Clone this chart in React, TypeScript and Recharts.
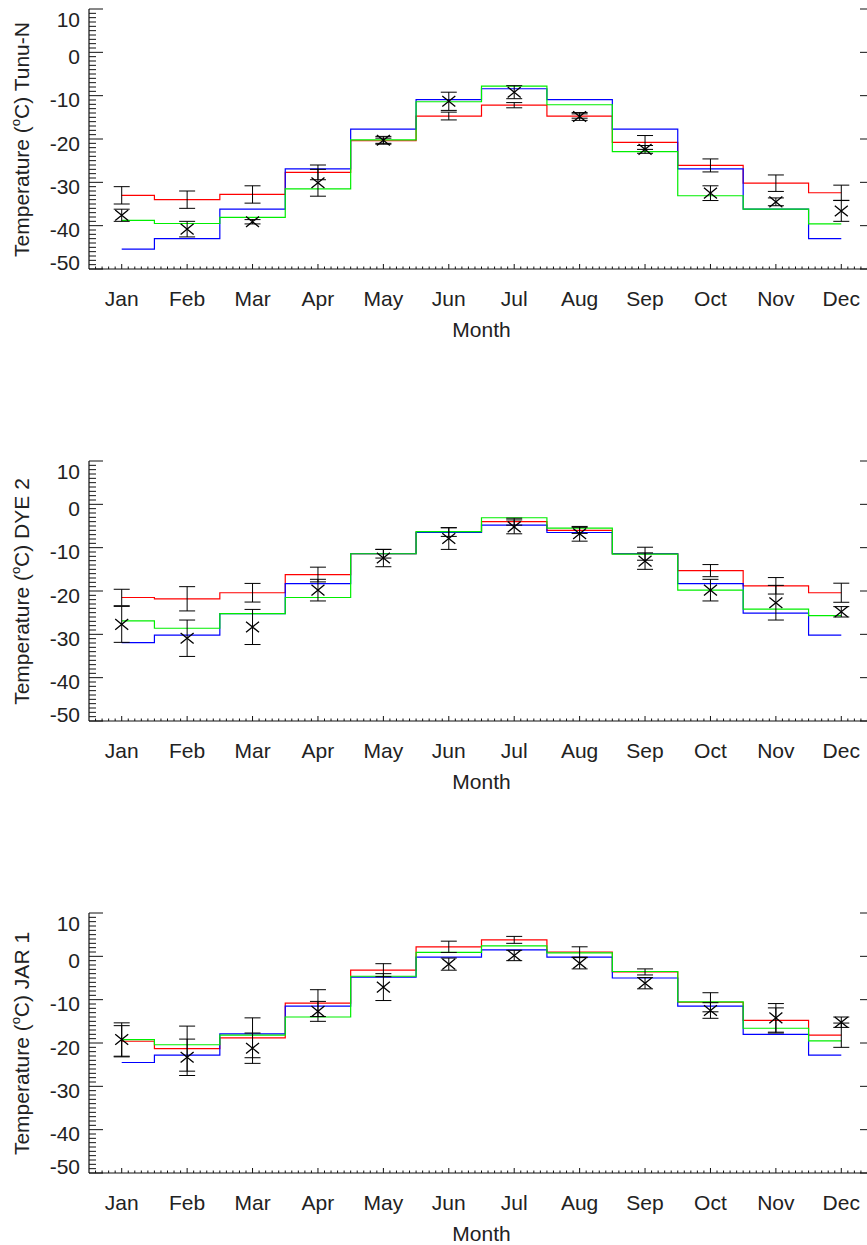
import React from 'react';
import { ComposedChart, Line, Scatter, ErrorBar, XAxis, YAxis, Label } from 'recharts';

// ---------- categories / tick labels ----------
const MONTHS = ['Jan', 'Feb', 'Mar', 'Apr', 'May', 'Jun', 'Jul', 'Aug', 'Sep', 'Oct', 'Nov', 'Dec'];
const Y_LABELS = [10, 0, -10, -20, -30, -40, -50];

// ---------- Tunu-N ----------
const TUNU_RED = [-33.0, -34.0, -32.8, -27.7, -20.4, -14.7, -12.2, -14.7, -20.8, -26.1, -30.2, -32.4];
const TUNU_GREEN = [-38.8, -39.5, -38.1, -31.5, -20.2, -11.4, -7.8, -12.1, -22.9, -33.1, -36.2, -39.6];
const TUNU_BLUE = [-45.4, -43.0, -36.2, -26.9, -17.7, -10.9, -8.4, -10.9, -17.7, -26.9, -36.2, -43.0];
const TUNU_RED_ERR = [2.0, 2.0, 2.0, 1.7, 0.6, 0.9, 0.6, 0.5, 1.6, 1.5, 1.9, 1.75];
const TUNU_OBS = [-37.6, -40.8, -39.1, -30.1, -20.3, -11.3, -9.2, -14.8, -22.4, -32.5, -34.5, -36.6];
const TUNU_OBS_ERR = [1.4, 1.8, 0.5, 3.1, 0.9, 2.1, 1.5, 0.9, 0.9, 1.7, 0.9, 2.4];

// ---------- DYE 2 ----------
const DYE_RED = [-21.5, -21.8, -20.4, -16.2, -11.4, -6.4, -4.0, -6.0, -11.4, -15.3, -18.8, -20.4];
const DYE_GREEN = [-26.9, -28.6, -25.2, -21.5, -11.4, -6.3, -3.1, -5.5, -11.5, -19.8, -24.2, -25.7];
const DYE_BLUE = [-31.9, -30.2, -25.2, -18.3, -11.4, -6.5, -4.8, -6.5, -11.4, -18.3, -25.1, -30.2];
const DYE_RED_ERR = [1.9, 2.8, 2.15, 1.7, 1.0, 1.0, 0.8, 0.7, 1.5, 1.4, 1.9, 2.2];
const DYE_OBS = [-27.7, -30.9, -28.3, -19.8, -12.4, -7.9, -5.2, -6.8, -13.1, -19.8, -22.7, -24.8];
const DYE_OBS_ERR = [4.15, 4.2, 4.05, 2.5, 2.0, 2.5, 1.6, 1.7, 1.9, 2.5, 4.0, 1.2];

// ---------- JAR 1 ----------
const JAR_RED = [-19.6, -21.3, -18.8, -10.8, -3.2, 2.2, 3.8, 1.0, -3.6, -10.6, -14.8, -18.2];
const JAR_GREEN = [-19.2, -20.4, -18.2, -14.0, -4.6, 0.9, 2.4, 0.8, -3.5, -10.5, -16.6, -19.5];
const JAR_BLUE = [-24.5, -22.8, -17.9, -11.5, -4.8, -0.2, 1.5, -0.2, -5.0, -11.5, -18.0, -22.8];
const JAR_RED_ERR = [3.6, 5.2, 4.6, 3.1, 1.5, 1.3, 0.8, 1.2, 0.7, 2.2, 2.9, 2.8];
const JAR_OBS = [-19.2, -23.3, -21.2, -12.7, -7.1, -1.8, 0.2, -1.6, -6.2, -12.5, -14.2, -15.2];
const JAR_OBS_ERR = [3.85, 4.2, 3.5, 2.3, 3.1, 1.4, 1.2, 1.3, 1.3, 1.8, 3.3, 1.2];

// ---------- axis tick positions ----------
const X_TICKS: number[] = [];
for (let k = -4; k <= 114; k++) X_TICKS.push(k / 10);
const Y_TICKS: number[] = [];
for (let v = -50; v <= 10; v++) Y_TICKS.push(v);

const FONT = '"Liberation Sans", Arial, Helvetica, sans-serif';
const FS = 21;
const TXT = '#222';
const AXIS = '#111';

const isMajorX = (v: number) => Math.abs(v - Math.round(v)) < 1e-6;

function XTickBottom(p: any) {
  const { x, y, payload } = p;
  const v = payload.value;
  const major = isMajorX(v);
  return (
    <g>
      <line x1={x} x2={x} y1={y} y2={y - (major ? 5 : 2.5)} stroke={AXIS} strokeWidth={1} />
      {major && (
        <text x={x} y={y + 36.5} textAnchor="middle" fontFamily={FONT} fontSize={FS} fill={TXT}>
          {MONTHS[Math.round(v)]}
        </text>
      )}
    </g>
  );
}

function XTickTop(p: any) {
  const { x, y, payload } = p;
  const major = isMajorX(payload.value);
  return <line x1={x} x2={x} y1={y} y2={y + (major ? 5 : 2.5)} stroke={AXIS} strokeWidth={1} />;
}

function YTickLeft(p: any) {
  const { x, y, payload } = p;
  const v = payload.value;
  const major = v % 10 === 0;
  const off = v === 10 ? 17.7 : v === -50 ? 1.3 : 11.8;
  return (
    <g>
      <line x1={x} x2={x + (major ? 14 : 7)} y1={y} y2={y} stroke={AXIS} strokeWidth={1} />
      {major && Y_LABELS.includes(v) && (
        <text x={x - 9} y={y + off} textAnchor="end" fontFamily={FONT} fontSize={FS} fill={TXT}>
          {String(v)}
        </text>
      )}
    </g>
  );
}

function YTickRight(p: any) {
  const { x, y, payload } = p;
  const major = payload.value % 10 === 0;
  return <line x1={x} x2={x - (major ? 14 : 7)} y1={y} y2={y} stroke={AXIS} strokeWidth={1} />;
}

function XShape(p: any) {
  const { cx, cy } = p;
  if (cx == null || cy == null) return <g />;
  return (
    <path
      d={`M${cx - 6.5},${cy - 5.3}L${cx + 6.5},${cy + 5.3}M${cx - 6.5},${cy + 5.3}L${cx + 6.5},${cy - 5.3}`}
      stroke="#000"
      strokeWidth={1.3}
      fill="none"
    />
  );
}

const NoShape = () => <g />;

type PanelProps = {
  site: string;
  red: number[];
  green: number[];
  blue: number[];
  redErr: number[];
  obs: number[];
  obsErr: number[];
};

function Panel({ site, red, green, blue, redErr, obs, obsErr }: PanelProps) {
  const data = MONTHS.map((_, i) => ({
    m: i,
    red: red[i],
    green: green[i],
    blue: blue[i],
    redErr: redErr[i],
    obs: obs[i],
    obsErr: obsErr[i],
  }));
  return (
    <ComposedChart width={900} height={340} data={data} margin={{ top: 9, right: 6, bottom: 0, left: 29 }}>
      <XAxis
        xAxisId="b"
        dataKey="m"
        type="number"
        orientation="bottom"
        domain={[-0.5, 11.5]}
        allowDataOverflow
        ticks={X_TICKS}
        interval={0}
        tickSize={0}
        tickMargin={0}
        tickLine={false}
        tick={(p: any) => <XTickBottom {...p} />}
        height={71}
        axisLine={{ stroke: AXIS, strokeWidth: 1.2 }}
      >
        <Label
          content={(lp: any) => {
            const vb = lp.viewBox || { x: 89, y: 269, width: 785 };
            return (
              <text x={vb.x + vb.width / 2} y={vb.y + 68} textAnchor="middle" fontFamily={FONT} fontSize={FS} fill={TXT}>
                Month
              </text>
            );
          }}
        />
      </XAxis>
      <XAxis
        xAxisId="t"
        dataKey="m"
        type="number"
        orientation="top"
        domain={[-0.5, 11.5]}
        allowDataOverflow
        ticks={X_TICKS}
        interval={0}
        tickSize={0}
        tickMargin={0}
        tickLine={false}
        tick={(p: any) => <XTickTop {...p} />}
        height={0}
        axisLine={{ stroke: AXIS, strokeWidth: 1.2 }}
      />
      <YAxis
        yAxisId="l"
        type="number"
        orientation="left"
        domain={[-50, 10]}
        allowDataOverflow
        ticks={Y_TICKS}
        interval={0}
        tickSize={0}
        tickMargin={0}
        tickLine={false}
        tick={(p: any) => <YTickLeft {...p} />}
        width={60}
        axisLine={{ stroke: AXIS, strokeWidth: 1.2 }}
      >
        <Label
          content={(lp: any) => {
            const vb = lp.viewBox || { x: 29, y: 9, height: 260 };
            const cx = vb.x - 0.5;
            const cy = vb.y + vb.height / 2 + 0.5;
            return (
              <text
                x={cx}
                y={cy}
                transform={`rotate(-90, ${cx}, ${cy})`}
                textAnchor="middle"
                fontFamily={FONT}
                fontSize={FS}
                fill={TXT}
              >
                Temperature (<tspan fontSize={13} dy={-9}>o</tspan>
                <tspan dy={9}>C) {site}</tspan>
              </text>
            );
          }}
        />
      </YAxis>
      <YAxis
        yAxisId="r"
        type="number"
        orientation="right"
        domain={[-50, 10]}
        allowDataOverflow
        ticks={Y_TICKS}
        interval={0}
        tickSize={0}
        tickMargin={0}
        tickLine={false}
        tick={(p: any) => <YTickRight {...p} />}
        width={20}
        axisLine={{ stroke: AXIS, strokeWidth: 1.2 }}
      />
      <Line xAxisId="b" yAxisId="l" type="step" dataKey="red" stroke="#ff0000" strokeWidth={1.2} dot={false} activeDot={false} isAnimationActive={false} />
      <Line xAxisId="b" yAxisId="l" type="step" dataKey="blue" stroke="#0000ff" strokeWidth={1.2} dot={false} activeDot={false} isAnimationActive={false} />
      <Line xAxisId="b" yAxisId="l" type="step" dataKey="green" stroke="#00ee00" strokeWidth={1.2} dot={false} activeDot={false} isAnimationActive={false} />
      <Scatter xAxisId="b" yAxisId="l" dataKey="red" shape={NoShape} isAnimationActive={false}>
        <ErrorBar dataKey="redErr" direction="y" width={8} stroke="#000" strokeWidth={1} />
      </Scatter>
      <Scatter xAxisId="b" yAxisId="l" dataKey="obs" shape={XShape} isAnimationActive={false}>
        <ErrorBar dataKey="obsErr" direction="y" width={8} stroke="#000" strokeWidth={1} />
      </Scatter>
    </ComposedChart>
  );
}

export default function App() {
  return (
    <div style={{ position: 'absolute', left: 0, top: 0, width: 867, height: 1245, overflow: 'hidden', background: '#fff' }}>
      <div style={{ position: 'absolute', left: 0, top: 0 }}>
        <Panel site="Tunu-N" red={TUNU_RED} green={TUNU_GREEN} blue={TUNU_BLUE} redErr={TUNU_RED_ERR} obs={TUNU_OBS} obsErr={TUNU_OBS_ERR} />
      </div>
      <div style={{ position: 'absolute', left: 0, top: 452 }}>
        <Panel site="DYE 2" red={DYE_RED} green={DYE_GREEN} blue={DYE_BLUE} redErr={DYE_RED_ERR} obs={DYE_OBS} obsErr={DYE_OBS_ERR} />
      </div>
      <div style={{ position: 'absolute', left: 0, top: 904 }}>
        <Panel site="JAR 1" red={JAR_RED} green={JAR_GREEN} blue={JAR_BLUE} redErr={JAR_RED_ERR} obs={JAR_OBS} obsErr={JAR_OBS_ERR} />
      </div>
    </div>
  );
}
